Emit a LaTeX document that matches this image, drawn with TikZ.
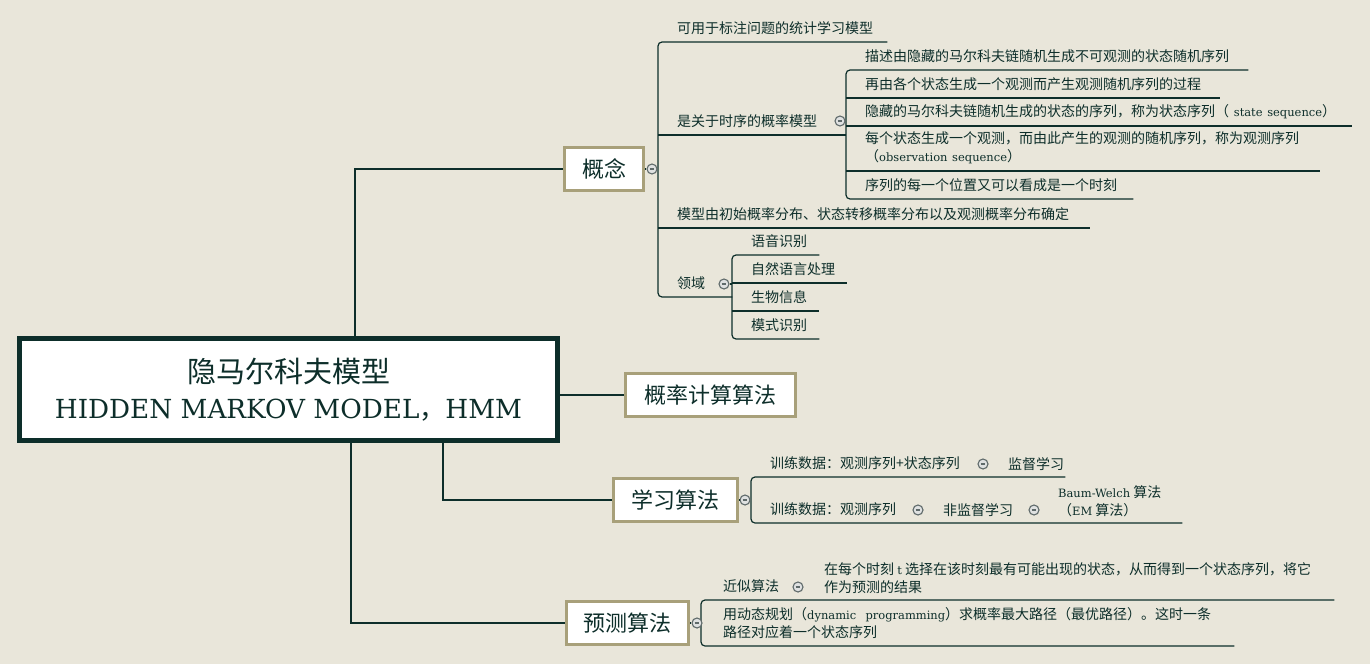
\documentclass[tikz,border=0pt]{standalone}
\usepackage{fontspec}
\setmainfont{Noto Sans CJK SC}
\newfontfamily\lat[Scale=0.82]{DejaVu Serif}
\usetikzlibrary{positioning}
\definecolor{paper}{RGB}{233,230,218}
\definecolor{ink}{RGB}{13,46,42}
\definecolor{olive}{RGB}{168,160,122}
\definecolor{knob grey}{RGB}{95,106,106}

\begin{document}
\begin{tikzpicture}
    [x=1pt, y=-1pt,
    main topic/.style = {draw=ink, line width=5pt, fill=white, text=ink, align=center,
      minimum width=538pt, minimum height=102pt, font=\fontsize{29}{36}\selectfont},
    topic/.style = {draw=olive, line width=3pt, fill=white, text=ink,
      minimum height=43pt, font=\fontsize{22}{26}\selectfont},
    leaf/.style = {anchor=south west, inner xsep=0pt, inner ysep=7pt, align=left, text=ink,
      font=\fontsize{14}{18}\selectfont},
    note/.style = {anchor=west, inner sep=0pt, align=left, text=ink,
      font=\fontsize{14}{18}\selectfont},
    knob/.style = {circle, draw=knob grey, fill=white!80!knob grey, line width=1.1pt,
      minimum size=10pt, inner sep=0pt,
      path picture={\draw[knob grey, line width=1.1pt]
        ([xshift=-2.4pt]path picture bounding box.center) -- ([xshift=2.4pt]path picture bounding box.center);}},
    trunk/.style = {draw=ink, line width=2pt},
    link/.style = {draw=ink, line width=1.2pt, rounded corners=4pt}]

    \useasboundingbox (0,0) rectangle (1370,664);
    \fill [paper] (0,0) rectangle (1370,664);

    \node [main topic] (HMM) at (288.5,389.5) {隐马尔科夫模型\\
      {\lat\fontsize{32}{36}\selectfont HIDDEN MARKOV MODEL}{\fontsize{26}{36}\selectfont ，}{\lat\fontsize{32}{36}\selectfont HMM}};

    \node [topic, minimum width=79pt] (Concept) at (604,169) {概念};
    \node [topic, minimum width=170pt] (Probability) at (710.5,395) {概率计算算法};
    \node [topic, minimum width=124pt] (Learning) at (675.5,500) {学习算法};
    \node [topic, minimum width=122pt] (Decoding) at (627.5,623) {预测算法};

    \draw [trunk] ([xshift=66.5pt]HMM.north) |- (Concept);
    \draw [trunk] (HMM.east |- Probability) -- (Probability);
    \draw [trunk] ([xshift=154.5pt]HMM.south) |- (Learning);
    \draw [trunk] ([xshift=62.5pt]HMM.south) |- (Decoding);

    % 概念
    \node [leaf, text width=210pt] (Usage) at (677,42) {可用于标注问题的统计学习模型};
    \node [leaf, text width=169pt] (Timing) at (677,135) {是关于时序的概率模型};
    \node [leaf, text width=413pt] (Params) at (677,228) {模型由初始概率分布、状态转移概率分布以及观测概率分布确定};
    \node [leaf, text width=55pt] (Field) at (677,297) {领域};
    \draw [link] (Usage.south east) -- ([xshift=-19pt]Usage.south west)
      -- ([xshift=-19pt]Field.south west) -- (Field.south east);
    \draw [link] ([xshift=-19pt]Timing.south west) -- (Timing.south east);
    \draw [link] ([xshift=-19pt]Params.south west) -- (Params.south east);
    \node [knob] (Concept knob) at (652,169) {};
    \draw [link] (Concept) -- (Concept knob);

    \node [leaf, text width=383pt] (Hidden) at (865,70) {描述由隐藏的马尔科夫链随机生成不可观测的状态随机序列};
    \node [leaf, text width=355pt] (Emit) at (865,98) {再由各个状态生成一个观测而产生观测随机序列的过程};
    \node [leaf, text width=487pt] (States) at (865,126)
      {隐藏的马尔科夫链随机生成的状态的序列，称为状态序列（ {\lat state sequence}）};
    \node [leaf, text width=455pt] (Observations) at (865,171)
      {每个状态生成一个观测，而由此产生的观测的随机序列，称为观测序列\\（{\lat observation sequence}）};
    \node [leaf, text width=268pt] (Moment) at (865,199) {序列的每一个位置又可以看成是一个时刻};
    \draw [link] (Hidden.south east) -- ([xshift=-19pt]Hidden.south west)
      -- ([xshift=-19pt]Moment.south west) -- (Moment.south east);
    \draw [link] ([xshift=-19pt]Emit.south west) -- (Emit.south east);
    \draw [link] ([xshift=-19pt]States.south west) -- (States.south east);
    \draw [link] ([xshift=-19pt]Observations.south west) -- (Observations.south east);
    \node [knob] (Timing knob) at (840,121) {};

    \node [leaf, text width=68pt] (Speech) at (751,255) {语音识别};
    \node [leaf, text width=96pt] (Language) at (751,283) {自然语言处理};
    \node [leaf, text width=68pt] (Bio) at (751,311) {生物信息};
    \node [leaf, text width=68pt] (Pattern) at (751,339) {模式识别};
    \draw [link] (Speech.south east) -- ([xshift=-19pt]Speech.south west)
      -- ([xshift=-19pt]Pattern.south west) -- (Pattern.south east);
    \draw [link] ([xshift=-19pt]Language.south west) -- (Language.south east);
    \draw [link] ([xshift=-19pt]Bio.south west) -- (Bio.south east);
    \node [knob] (Field knob) at (724,284) {};
    \draw [link] (Field knob) -- (Field.south east |- Field knob);

    % 学习算法
    \node [leaf, text width=295pt] (Supervised) at (770,477) {训练数据：观测序列+状态序列};
    \node [leaf, text width=412pt] (Unsupervised) at (770,523) {训练数据：观测序列};
    \draw [link] (Supervised.south east) -- ([xshift=-19pt]Supervised.south west)
      -- ([xshift=-19pt]Unsupervised.south west) -- (Unsupervised.south east);
    \node [knob] (Supervised knob) at (983,464) {};
    \node [note] (Supervised name) at (1008,464) {监督学习};
    \node [knob] (Unsupervised knob) at (918,510) {};
    \node [note] (Unsupervised name) at (943,510) {非监督学习};
    \node [knob] (BW knob) at (1034,510) {};
    \node [note] (Baum Welch) at (1058,501) {{\lat Baum-Welch} 算法\\（{\lat EM} 算法）};
    \node [knob] (Learning knob) at (745,500) {};
    \draw [link] (Learning) -- (Learning knob);

    % 预测算法
    \node [leaf, text width=611pt] (Approx) at (723,600) {近似算法};
    \node [leaf, text width=511pt] (Viterbi) at (723,646)
      {用动态规划（{\lat dynamic\ \ programming}）求概率最大路径（最优路径）。这时一条\\路径对应着一个状态序列};
    \draw [link] (Approx.south east) -- ([xshift=-22pt]Approx.south west)
      -- ([xshift=-22pt]Viterbi.south west) -- (Viterbi.south east);
    \node [knob] (Approx knob) at (798,587) {};
    \node [note] (Approx text) at (824,578)
      {在每个时刻 {\lat t} 选择在该时刻最有可能出现的状态，从而得到一个状态序列，将它\\作为预测的结果};
    \node [knob] (Decoding knob) at (697,623) {};
    \draw [link] (Decoding) -- (Decoding knob);
\end{tikzpicture}
\end{document}
